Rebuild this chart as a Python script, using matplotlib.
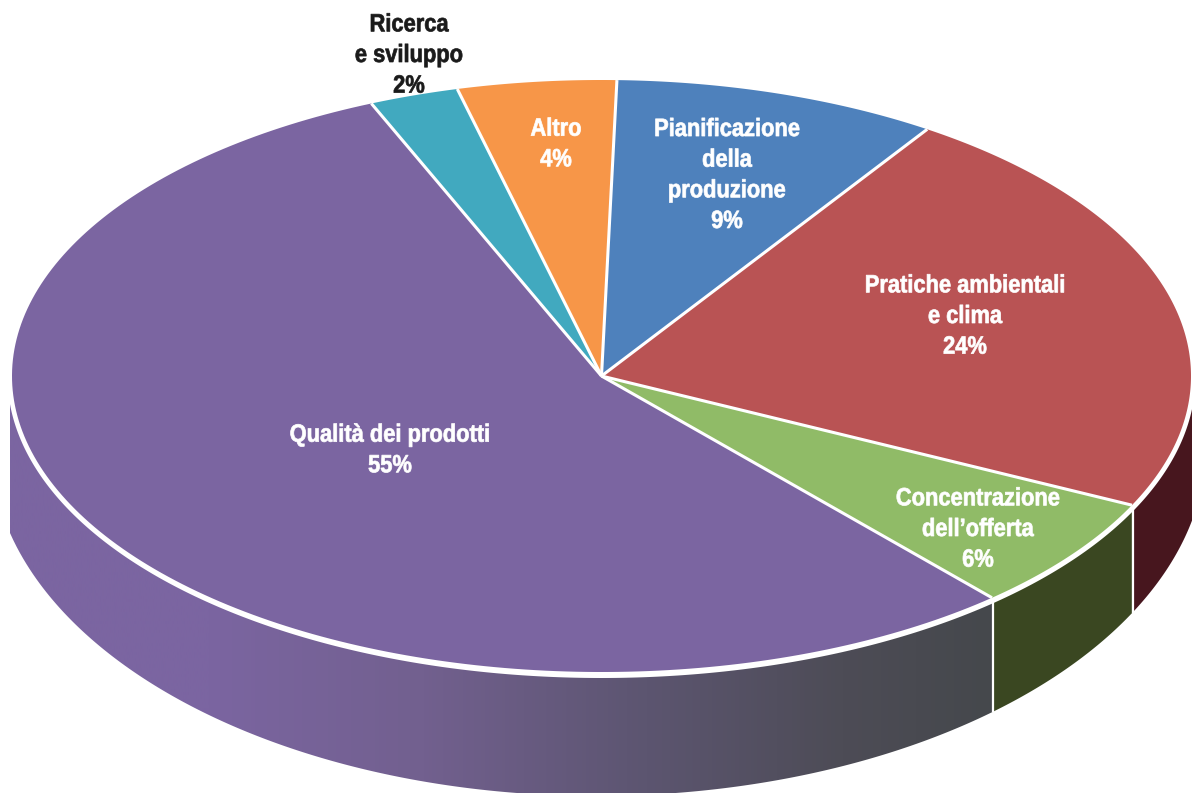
#!/usr/bin/python
import numpy as np
import matplotlib
matplotlib.use('Agg')
import matplotlib.pyplot as plt
from matplotlib.colors import LinearSegmentedColormap
from matplotlib.patches import Polygon
from matplotlib.patheffects import AbstractPathEffect
from matplotlib.transforms import Affine2D

# slices, clockwise from the top, sizes
categories = ['Pianificazione\ndella\nproduzione', 'Pratiche ambientali\ne clima',
              'Concentrazione\ndell\u2019offerta', 'Qualit\u00e0 dei prodotti',
              'Ricerca\ne sviluppo', 'Altro']
shares = [8.9, 22.87, 6.29, 55.14, 2.45, 4.35]
printed_pct = [9, 24, 6, 55, 2, 4]

top_colors = ['#4e81bc', '#b95354', '#90bb67', '#7b65a1', '#41a9bf', '#f79648']
side_colors = ['#47161e', '#3a4721']
text_colors = ['white', 'white', 'white', 'white', '#1a1a1a', 'white']
label_pos = [(727, 175), (965, 316), (978, 529), (390, 450), (409, 55), (556, 144)]

W, H = 1192, 793
cx, cy, rx, ry = 601.5, 376, 589.5, 296
start_angle = 88.5
left_clip = 10

plt.rcParams['font.family'] = ['Liberation Sans', 'DejaVu Sans']


class Narrow(AbstractPathEffect):
    # squeeze each text line around its own centre and thicken it a bit,
    # the source font is a heavy condensed one
    def __init__(self, sx, stroke):
        self.sx = sx
        self.stroke = stroke

    def draw_path(self, renderer, gc, tpath, affine, rgbFace=None):
        xs = tpath.vertices[:, 0]
        mid = (xs.min() + xs.max()) / 2
        squeeze = Affine2D().translate(-mid, 0).scale(self.sx, 1).translate(mid, 0)
        gc0 = renderer.new_gc()
        gc0.copy_properties(gc)
        gc0.set_foreground(rgbFace)
        gc0.set_linewidth(self.stroke)
        renderer.draw_path(gc0, tpath, squeeze + affine, rgbFace)
        gc0.restore()


def top_y(x):
    u = np.clip((x - cx) / rx, -1, 1)
    return cy + ry * np.sqrt(1 - u ** 2)


def bottom_y(x):
    # lower edge of the wall is rounder than the top face
    dx = x - 596
    u = dx / np.where(dx < 0, 605, 610)
    return 446 + 350 * np.sqrt(1 - u ** 2)


def side_poly(x0, x1):
    xs = np.linspace(x0, x1, 300)
    return np.r_[np.c_[xs, top_y(xs)], np.c_[xs[::-1], bottom_y(xs[::-1])]]


fig = plt.figure(figsize=(W / 100, H / 100), dpi=100)
ax = fig.add_axes([0, 0, 1, 1])

edges = start_angle - np.cumsum([0] + shares) * 3.6
px = lambda a: cx + rx * np.cos(np.radians(a))
py = lambda a: cy - ry * np.sin(np.radians(a))

# side wall, only the slices that face the viewer
seam_green = px(edges[2])
seam_purple = px(edges[3])

ax.add_patch(Polygon(side_poly(seam_green, W), closed=True, fc=side_colors[0], ec='none', zorder=1))
ax.add_patch(Polygon(side_poly(seam_purple, seam_green), closed=True, fc=side_colors[1], ec='none', zorder=1))

cmap = LinearSegmentedColormap.from_list('wall', [
    (0.00, '#7b65a1'), (0.20, '#7b65a1'), (0.42, '#72608f'),
    (0.65, '#5c5570'), (0.85, '#4d4c56'), (1.00, '#45484c')])
img = ax.imshow(np.linspace(0, 1, 512)[None, :], cmap=cmap, aspect='auto',
                extent=[left_clip, seam_purple, H, 0], zorder=1)
wall = Polygon(side_poly(left_clip, seam_purple), closed=True, fc='none', ec='none')
ax.add_patch(wall)
img.set_clip_path(wall)

for seam in (seam_green, seam_purple):
    ax.plot([seam + 1, seam + 1], [top_y(seam), bottom_y(seam)], color='white', lw=1.6, zorder=2,
            solid_capstyle='butt')

# white rim between top face and wall
t = np.linspace(0, 2 * np.pi, 720)
ax.fill(cx + (rx + 4.5) * np.cos(t), cy + 0.5 + (ry + 5.5) * np.sin(t), color='white', lw=0, zorder=3)

# top face
for i, color in enumerate(top_colors):
    a = np.linspace(edges[i], edges[i + 1], 200)
    pts = np.r_[[[cx, cy]], np.c_[px(a), py(a)]]
    ax.add_patch(Polygon(pts, closed=True, fc=color, ec='none', zorder=4))
for e in edges[:-1]:
    ax.plot([cx, px(e)], [cy, py(e)], color='white', lw=2.2, zorder=5, solid_capstyle='butt')

for name, pct, (x, y), color in zip(categories, printed_pct, label_pos, text_colors):
    ax.text(x, y, '%s\n%d%%' % (name, pct), color=color, ha='center', va='center',
            fontsize=18, fontweight='bold', linespacing=1.35, zorder=6,
            path_effects=[Narrow(0.875, 0.5)])

ax.set_xlim(0, W)
ax.set_ylim(H, 0)
ax.axis('off')
fig.savefig('out.png', dpi=100)
